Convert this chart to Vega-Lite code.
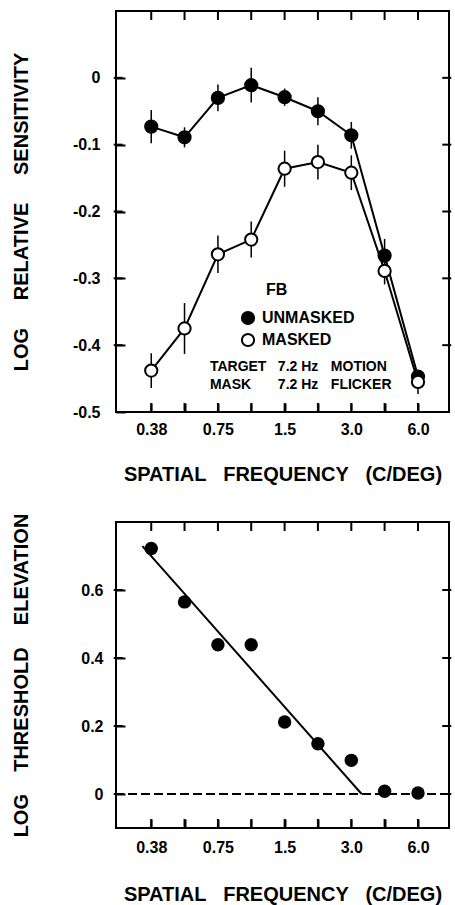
{
  "$schema": "https://vega.github.io/schema/vega-lite/v6.json",
  "padding": {"left": 10, "top": 9, "right": 0, "bottom": 0},
  "background": "white",
  "spacing": 27,
  "datasets": {
    "top": [
      {"f": 0.375, "series": "UNMASKED", "val": -0.073, "lo": -0.098, "hi": -0.048},
      {"f": 0.53, "series": "UNMASKED", "val": -0.089, "lo": -0.104, "hi": -0.074},
      {"f": 0.75, "series": "UNMASKED", "val": -0.030, "lo": -0.050, "hi": -0.010},
      {"f": 1.06, "series": "UNMASKED", "val": -0.011, "lo": -0.037, "hi": 0.015},
      {"f": 1.5, "series": "UNMASKED", "val": -0.029, "lo": -0.042, "hi": -0.016},
      {"f": 2.12, "series": "UNMASKED", "val": -0.050, "lo": -0.071, "hi": -0.029},
      {"f": 3.0, "series": "UNMASKED", "val": -0.086, "lo": -0.106, "hi": -0.066},
      {"f": 4.24, "series": "UNMASKED", "val": -0.266, "lo": -0.291, "hi": -0.241},
      {"f": 6.0, "series": "UNMASKED", "val": -0.447, "lo": -0.457, "hi": -0.437},
      {"f": 0.375, "series": "MASKED", "val": -0.438, "lo": -0.464, "hi": -0.412},
      {"f": 0.53, "series": "MASKED", "val": -0.375, "lo": -0.413, "hi": -0.337},
      {"f": 0.75, "series": "MASKED", "val": -0.264, "lo": -0.292, "hi": -0.236},
      {"f": 1.06, "series": "MASKED", "val": -0.242, "lo": -0.269, "hi": -0.215},
      {"f": 1.5, "series": "MASKED", "val": -0.136, "lo": -0.163, "hi": -0.109},
      {"f": 2.12, "series": "MASKED", "val": -0.126, "lo": -0.152, "hi": -0.100},
      {"f": 3.0, "series": "MASKED", "val": -0.142, "lo": -0.168, "hi": -0.116},
      {"f": 4.24, "series": "MASKED", "val": -0.289, "lo": -0.309, "hi": -0.269},
      {"f": 6.0, "series": "MASKED", "val": -0.455, "lo": -0.473, "hi": -0.437}
    ],
    "notes": [
      {"kind": "subject", "f": 1.235, "y": -0.317, "text": "FB"},
      {"kind": "condition", "f": 0.69, "y": -0.432, "text": "TARGET"},
      {"kind": "condition", "f": 1.398, "y": -0.432, "text": "7.2 Hz"},
      {"kind": "condition", "f": 2.425, "y": -0.432, "text": "MOTION"},
      {"kind": "condition", "f": 0.69, "y": -0.459, "text": "MASK"},
      {"kind": "condition", "f": 1.398, "y": -0.459, "text": "7.2 Hz"},
      {"kind": "condition", "f": 2.425, "y": -0.459, "text": "FLICKER"}
    ],
    "bottom": [
      {"f": 0.375, "val": 0.722},
      {"f": 0.53, "val": 0.565},
      {"f": 0.75, "val": 0.439},
      {"f": 1.06, "val": 0.439},
      {"f": 1.5, "val": 0.212},
      {"f": 2.12, "val": 0.148},
      {"f": 3.0, "val": 0.099},
      {"f": 4.24, "val": 0.008},
      {"f": 6.0, "val": 0.003}
    ],
    "fit": [
      {"f": 0.342, "val": 0.729},
      {"f": 3.34, "val": 0.0}
    ],
    "xticksTop": [
      {"f": 0.375, "y": -0.4933}, {"f": 0.53, "y": -0.4933}, {"f": 0.75, "y": -0.4933},
      {"f": 1.06, "y": -0.4933}, {"f": 1.5, "y": -0.4933}, {"f": 2.12, "y": -0.4933},
      {"f": 3.0, "y": -0.4933}, {"f": 4.24, "y": -0.4933}, {"f": 6.0, "y": -0.4933},
      {"f": 0.375, "y": 0.0933}, {"f": 0.53, "y": 0.0933}, {"f": 0.75, "y": 0.0933},
      {"f": 1.06, "y": 0.0933}, {"f": 1.5, "y": 0.0933}, {"f": 2.12, "y": 0.0933},
      {"f": 3.0, "y": 0.0933}, {"f": 4.24, "y": 0.0933}, {"f": 6.0, "y": 0.0933}
    ],
    "yticksTop": [
      {"v": -0.4, "x": 0.2661}, {"v": -0.3, "x": 0.2661}, {"v": -0.2, "x": 0.2661},
      {"v": -0.1, "x": 0.2661}, {"v": 0, "x": 0.2661},
      {"v": -0.4, "x": 8.089}, {"v": -0.3, "x": 8.089}, {"v": -0.2, "x": 8.089},
      {"v": -0.1, "x": 8.089}, {"v": 0, "x": 8.089}
    ],
    "xticksBottom": [
      {"f": 0.375, "y": -0.0868}, {"f": 0.53, "y": -0.0868}, {"f": 0.75, "y": -0.0868},
      {"f": 1.06, "y": -0.0868}, {"f": 1.5, "y": -0.0868}, {"f": 2.12, "y": -0.0868},
      {"f": 3.0, "y": -0.0868}, {"f": 4.24, "y": -0.0868}, {"f": 6.0, "y": -0.0868},
      {"f": 0.375, "y": 0.7868}, {"f": 0.53, "y": 0.7868}, {"f": 0.75, "y": 0.7868},
      {"f": 1.06, "y": 0.7868}, {"f": 1.5, "y": 0.7868}, {"f": 2.12, "y": 0.7868},
      {"f": 3.0, "y": 0.7868}, {"f": 4.24, "y": 0.7868}, {"f": 6.0, "y": 0.7868}
    ],
    "yticksBottom": [
      {"v": 0, "x": 0.2661}, {"v": 0.2, "x": 0.2661}, {"v": 0.4, "x": 0.2661}, {"v": 0.6, "x": 0.2661},
      {"v": 0, "x": 8.089}, {"v": 0.2, "x": 8.089}, {"v": 0.4, "x": 8.089}, {"v": 0.6, "x": 8.089}
    ]
  },
  "vconcat": [
    {
      "width": 333,
      "height": 401,
      "resolve": {"axis": {"x": "independent", "y": "independent"}},
      "layer": [
        {
          "data": {"name": "top"},
          "mark": {"type": "rule", "color": "black", "strokeWidth": 1.5},
          "encoding": {
            "x": {"field": "f", "type": "quantitative",
              "scale": {"type": "log", "domain": [0.26, 8.28], "nice": false, "zero": false},
              "axis": {"orient": "bottom", "values": [0.375, 0.53, 0.75, 1.06, 1.5, 2.12, 3, 4.24, 6],
                "labelExpr": "datum.value == 0.375 ? '0.38' : datum.value == 0.75 ? '0.75' : datum.value == 1.5 ? '1.5' : datum.value == 3 ? '3.0' : datum.value == 6 ? '6.0' : ''",
                "title": "SPATIAL\u00a0\u00a0\u00a0FREQUENCY\u00a0\u00a0\u00a0(C/DEG)", "labelPadding": 9, "titlePadding": 27}},
            "y": {"field": "lo", "type": "quantitative",
              "scale": {"domain": [-0.5, 0.1], "nice": false, "zero": false},
              "axis": {"orient": "left", "values": [-0.5, -0.4, -0.3, -0.2, -0.1, 0],
                "labelExpr": "datum.value == 0 ? '0' : (datum.value < 0 ? '-' : '') + format(abs(datum.value), '.1f')",
                "title": "LOG\u00a0\u00a0\u00a0\u00a0\u00a0RELATIVE\u00a0\u00a0\u00a0\u00a0\u00a0SENSITIVITY", "labelPadding": 16, "titlePadding": 41}},
            "y2": {"field": "hi"}
          }
        },
        {
          "data": {"name": "top"},
          "mark": {"type": "line", "color": "black", "strokeWidth": 2},
          "encoding": {
            "x": {"field": "f", "type": "quantitative", "scale": {"type": "log", "domain": [0.26, 8.28], "nice": false, "zero": false}, "axis": null},
            "y": {"field": "val", "type": "quantitative", "scale": {"domain": [-0.5, 0.1], "nice": false, "zero": false}, "axis": null},
            "detail": {"field": "series"}
          }
        },
        {
          "data": {"name": "xticksTop"},
          "mark": {"type": "tick", "orient": "vertical", "size": 9, "thickness": 2, "color": "black", "opacity": 1},
          "encoding": {
            "x": {"field": "f", "type": "quantitative", "scale": {"type": "log", "domain": [0.26, 8.28], "nice": false, "zero": false}, "axis": null},
            "y": {"field": "y", "type": "quantitative", "scale": {"domain": [-0.5, 0.1], "nice": false, "zero": false}, "axis": null}
          }
        },
        {
          "data": {"name": "yticksTop"},
          "mark": {"type": "tick", "orient": "horizontal", "size": 9, "thickness": 2, "color": "black", "opacity": 1},
          "encoding": {
            "y": {"field": "v", "type": "quantitative", "scale": {"domain": [-0.5, 0.1], "nice": false, "zero": false}, "axis": null},
            "x": {"field": "x", "type": "quantitative", "scale": {"type": "log", "domain": [0.26, 8.28], "nice": false, "zero": false}, "axis": null}
          }
        },
        {
          "data": {"name": "top"},
          "mark": {"type": "point", "shape": "circle", "size": 150, "stroke": "black", "strokeWidth": 2, "opacity": 1, "filled": false},
          "encoding": {
            "x": {"field": "f", "type": "quantitative", "scale": {"type": "log", "domain": [0.26, 8.28], "nice": false, "zero": false}, "axis": null},
            "y": {"field": "val", "type": "quantitative", "scale": {"domain": [-0.5, 0.1], "nice": false, "zero": false}, "axis": null},
            "fill": {"field": "series", "type": "nominal",
              "scale": {"domain": ["UNMASKED", "MASKED"], "range": ["black", "white"]},
              "legend": {"orient": "none", "legendX": 124, "legendY": 299, "title": null, "padding": 0,
                "symbolType": "circle", "symbolSize": 150, "symbolStrokeColor": "black", "symbolStrokeWidth": 2,
                "labelFont": "Liberation Sans", "labelFontSize": 16, "labelFontWeight": "bold", "labelColor": "black",
                "labelOffset": 6, "rowPadding": 0}}
          }
        },
        {
          "data": {"name": "notes"},
          "transform": [{"filter": "datum.kind == 'subject'"}],
          "mark": {"type": "text", "align": "left", "baseline": "middle", "font": "Liberation Sans", "fontSize": 16, "fontWeight": "bold", "color": "black"},
          "encoding": {
            "x": {"field": "f", "type": "quantitative", "scale": {"type": "log", "domain": [0.26, 8.28], "nice": false, "zero": false}, "axis": null},
            "y": {"field": "y", "type": "quantitative", "scale": {"domain": [-0.5, 0.1], "nice": false, "zero": false}, "axis": null},
            "text": {"field": "text"}
          }
        },
        {
          "data": {"name": "notes"},
          "transform": [{"filter": "datum.kind == 'condition'"}],
          "mark": {"type": "text", "align": "left", "baseline": "middle", "font": "Liberation Sans", "fontSize": 14, "fontWeight": "bold", "color": "black"},
          "encoding": {
            "x": {"field": "f", "type": "quantitative", "scale": {"type": "log", "domain": [0.26, 8.28], "nice": false, "zero": false}, "axis": null},
            "y": {"field": "y", "type": "quantitative", "scale": {"domain": [-0.5, 0.1], "nice": false, "zero": false}, "axis": null},
            "text": {"field": "text"}
          }
        }
      ]
    },
    {
      "width": 333,
      "height": 306,
      "resolve": {"axis": {"x": "independent", "y": "independent"}},
      "layer": [
        {
          "data": {"name": "bottom"},
          "mark": {"type": "rule", "color": "black", "strokeWidth": 1.5, "strokeDash": [9, 4]},
          "encoding": {
            "y": {"datum": 0, "type": "quantitative", "scale": {"domain": [-0.1, 0.8], "nice": false, "zero": false},
              "axis": {"orient": "left", "values": [0, 0.2, 0.4, 0.6],
                "labelExpr": "datum.value == 0 ? '0' : format(datum.value, '.1f')",
                "title": "LOG\u00a0\u00a0\u00a0\u00a0THRESHOLD\u00a0\u00a0\u00a0\u00a0ELEVATION", "labelPadding": 13, "titlePadding": 49}}
          }
        },
        {
          "data": {"name": "fit"},
          "mark": {"type": "line", "color": "black", "strokeWidth": 2},
          "encoding": {
            "x": {"field": "f", "type": "quantitative", "scale": {"type": "log", "domain": [0.26, 8.28], "nice": false, "zero": false}, "axis": null},
            "y": {"field": "val", "type": "quantitative", "scale": {"domain": [-0.1, 0.8], "nice": false, "zero": false}, "axis": null}
          }
        },
        {
          "data": {"name": "xticksBottom"},
          "mark": {"type": "tick", "orient": "vertical", "size": 9, "thickness": 2, "color": "black", "opacity": 1},
          "encoding": {
            "x": {"field": "f", "type": "quantitative", "scale": {"type": "log", "domain": [0.26, 8.28], "nice": false, "zero": false}, "axis": null},
            "y": {"field": "y", "type": "quantitative", "scale": {"domain": [-0.1, 0.8], "nice": false, "zero": false}, "axis": null}
          }
        },
        {
          "data": {"name": "yticksBottom"},
          "mark": {"type": "tick", "orient": "horizontal", "size": 9, "thickness": 2, "color": "black", "opacity": 1},
          "encoding": {
            "y": {"field": "v", "type": "quantitative", "scale": {"domain": [-0.1, 0.8], "nice": false, "zero": false}, "axis": null},
            "x": {"field": "x", "type": "quantitative", "scale": {"type": "log", "domain": [0.26, 8.28], "nice": false, "zero": false}, "axis": null}
          }
        },
        {
          "data": {"name": "bottom"},
          "mark": {"type": "point", "shape": "circle", "size": 180, "filled": true, "color": "black", "opacity": 1},
          "encoding": {
            "x": {"field": "f", "type": "quantitative",
              "scale": {"type": "log", "domain": [0.26, 8.28], "nice": false, "zero": false},
              "axis": {"orient": "bottom", "values": [0.375, 0.53, 0.75, 1.06, 1.5, 2.12, 3, 4.24, 6],
                "labelExpr": "datum.value == 0.375 ? '0.38' : datum.value == 0.75 ? '0.75' : datum.value == 1.5 ? '1.5' : datum.value == 3 ? '3.0' : datum.value == 6 ? '6.0' : ''",
                "title": "SPATIAL\u00a0\u00a0\u00a0FREQUENCY\u00a0\u00a0\u00a0(C/DEG)", "labelPadding": 11, "titlePadding": 29}},
            "y": {"field": "val", "type": "quantitative", "scale": {"domain": [-0.1, 0.8], "nice": false, "zero": false}, "axis": null}
          }
        }
      ]
    }
  ],
  "config": {
    "view": {"stroke": "black", "strokeWidth": 2},
    "axis": {
      "domain": false, "grid": false, "offset": -9,
      "tickColor": "black", "tickWidth": 2, "tickSize": 9,
      "labelFont": "Liberation Sans", "labelFontSize": 16, "labelFontWeight": "bold", "labelColor": "black",
      "titleFont": "Liberation Sans", "titleFontSize": 20, "titleFontWeight": "bold", "titleColor": "black"
    }
  }
}
